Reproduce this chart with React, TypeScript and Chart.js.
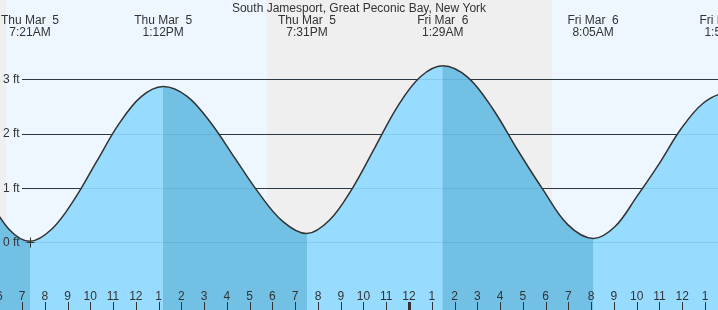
import React, { useEffect, useRef } from 'react';
import { Chart, registerables } from 'chart.js';

Chart.register(...registerables);

// ---- data (hours counted from Thu Mar 5 00:00), tide height in feet ----
const curveHours = [
  1.75, 2.683, 3.617, 4.55, 5.483, 6.417,
  7.35, 8.325, 9.3, 10.275, 11.25, 12.225,
  13.2, 14.253, 15.306, 16.358, 17.411, 18.464,
  19.517, 20.511, 21.506, 22.5, 23.494, 24.489,
  25.483, 26.583, 27.683, 28.783, 29.883, 30.983,
  32.083, 33.05, 34.017, 34.983, 35.95, 36.917,
  37.883, 38.95, 44.3,
];
const curveFeet = [
  3.4, 3.174, 2.555, 1.71, 0.865, 0.246,
  0.02, 0.25, 0.79, 1.485, 2.175, 2.679,
  2.87, 2.688, 2.1925, 1.545, 0.9, 0.38,
  0.16, 0.41, 0.99, 1.745, 2.5, 3.043,
  3.25, 3.037, 2.455, 1.69, 0.97, 0.32,
  0.07, 0.29, 0.85, 1.445, 2.09, 2.561,
  2.74, 2.56, 0.1,
];

const eventHours = [7.35, 13.2, 19.517, 25.483, 32.083, 37.883];
const eventDates = ['Thu Mar  5', 'Thu Mar  5', 'Thu Mar  5', 'Fri Mar  6', 'Fri Mar  6', 'Fri Mar  6'];
const eventClock = ['7:21AM', '1:12PM', '7:31PM', '1:29AM', '8:05AM', '1:53PM'];

const hourTicks = [6, 7, 8, 9, 10, 11, 12, 13, 14, 15, 16, 17, 18, 19, 20, 21, 22, 23, 24, 25, 26, 27, 28, 29, 30, 31, 32, 33, 34, 35, 36, 37];
const hourLabels = ['6', '7', '8', '9', '10', '11', '12', '1', '2', '3', '4', '5', '6', '7', '8', '9', '10', '11', '12', '1', '2', '3', '4', '5', '6', '7', '8', '9', '10', '11', '12', '1'];
const midnightHours = [24];

const gridFeet = [0, 1, 2, 3];
const gridLabels = ['0 ft', '1 ft', '2 ft', '3 ft'];

const nightStarts = [-10, 17.774];
const nightEnds = [6.297, 30.279];

const lowMarkHours = [7.35];

const TITLE = 'South Jamesport, Great Peconic Bay, New York';

// ---- styles ----
const W = 718;
const H = 310;
const X_MIN = 6.034;
const X_MAX = 37.571;
const Y_MIN = -1.247;
const Y_MAX = 4.462;
const DAY = '#eef7ff';
const NIGHT = '#efefef';
const RISE = '#97dcff';
const FALL = '#73c0e5';
const GRID = '#333333';
const TEXT = '#333333';
const FONT = '12px "Liberation Sans", Arial, sans-serif';
const GRID_X0 = 22;

const tidePlugin = {
  id: 'tideDecor',
  beforeDraw(chart: any) {
    const { ctx } = chart;
    const x = chart.scales.x;
    const y = chart.scales.y;
    ctx.save();
    ctx.fillStyle = DAY;
    ctx.fillRect(0, 0, W, H);
    ctx.fillStyle = NIGHT;
    nightStarts.forEach((s, i) => {
      const x0 = Math.max(0, x.getPixelForValue(s));
      const x1 = Math.min(W, x.getPixelForValue(nightEnds[i]));
      ctx.fillRect(Math.round(x0), 0, Math.round(x1) - Math.round(x0), H);
    });
    ctx.strokeStyle = GRID;
    ctx.lineWidth = 1;
    gridFeet.forEach((f) => {
      const py = Math.round(y.getPixelForValue(f)) + 0.5;
      ctx.beginPath();
      ctx.moveTo(GRID_X0, py);
      ctx.lineTo(W, py);
      ctx.stroke();
    });
    ctx.restore();
  },
  afterDatasetsDraw(chart: any) {
    const { ctx } = chart;
    const x = chart.scales.x;
    const y = chart.scales.y;
    ctx.save();
    // faint grid over the water
    ctx.strokeStyle = 'rgba(0, 90, 150, 0.13)';
    ctx.lineWidth = 1;
    gridFeet.forEach((f) => {
      const py = Math.round(y.getPixelForValue(f)) + 0.5;
      ctx.beginPath();
      ctx.moveTo(GRID_X0, py);
      ctx.lineTo(W, py);
      ctx.stroke();
    });
    // low marker
    ctx.strokeStyle = GRID;
    lowMarkHours.forEach((h) => {
      const px = Math.round(x.getPixelForValue(h)) + 0.5;
      const py = Math.round(y.getPixelForValue(0)) + 0.5;
      ctx.beginPath();
      ctx.moveTo(px - 4, py);
      ctx.lineTo(px + 4, py);
      ctx.moveTo(px, py - 5);
      ctx.lineTo(px, py + 5);
      ctx.stroke();
    });
    // y labels
    ctx.font = FONT;
    ctx.fillStyle = TEXT;
    ctx.textAlign = 'left';
    ctx.textBaseline = 'middle';
    gridFeet.forEach((f, i) => {
      ctx.fillText(gridLabels[i], 3, y.getPixelForValue(f) + 0.5);
    });
    // hour ticks
    ctx.textAlign = 'center';
    ctx.textBaseline = 'alphabetic';
    hourTicks.forEach((h, i) => {
      const px = x.getPixelForValue(h);
      ctx.fillText(hourLabels[i], px, 300);
      const bold = midnightHours.includes(h);
      ctx.fillStyle = GRID;
      if (bold) {
        ctx.fillRect(Math.round(px) - 1, 302, 3, 8);
      } else {
        ctx.fillRect(Math.round(px), 302, 1, 8);
      }
      ctx.fillStyle = TEXT;
    });
    // event labels
    eventHours.forEach((h, i) => {
      const px = x.getPixelForValue(h);
      ctx.fillText(eventDates[i], px, 24);
      ctx.fillText(eventClock[i], px, 36);
    });
    // title
    ctx.fillText(TITLE, W / 2, 12);
    ctx.restore();
  },
};

export default function App() {
  const canvasRef = useRef<HTMLCanvasElement | null>(null);

  useEffect(() => {
    const canvas = canvasRef.current;
    if (!canvas) return;
    const points = curveHours.map((h, i) => ({ x: h, y: curveFeet[i] }));
    const chart = new Chart(canvas, {
      type: 'line',
      data: {
        datasets: [
          {
            data: points,
            borderColor: GRID,
            borderWidth: 1.5,
            pointRadius: 0,
            fill: 'start',
            backgroundColor: RISE,
            tension: 0.36,
            cubicInterpolationMode: 'default',
            order: 1,
            segment: {
              backgroundColor: (c: any) => (c.p1.parsed.y >= c.p0.parsed.y ? RISE : FALL),
            },
          } as any,
          {
            // plain water underlay, hides anti-aliasing seams between shaded segments
            data: points,
            borderWidth: 0,
            borderColor: 'rgba(0,0,0,0)',
            pointRadius: 0,
            fill: 'start',
            backgroundColor: FALL,
            tension: 0.36,
            cubicInterpolationMode: 'default',
            order: 2,
          } as any,
        ],
      },
      options: {
        responsive: false,
        animation: false,
        devicePixelRatio: 1,
        events: [],
        layout: { padding: 0 },
        scales: {
          x: { type: 'linear', min: X_MIN, max: X_MAX, display: false },
          y: { type: 'linear', min: Y_MIN, max: Y_MAX, display: false },
        },
        plugins: {
          legend: { display: false },
          tooltip: { enabled: false },
        },
      },
      plugins: [tidePlugin],
    });
    return () => chart.destroy();
  }, []);

  return (
    <div style={{ position: 'absolute', left: 0, top: 0, width: W, height: H }}>
      <canvas ref={canvasRef} width={W} height={H} style={{ display: 'block', width: W, height: H }} />
    </div>
  );
}
